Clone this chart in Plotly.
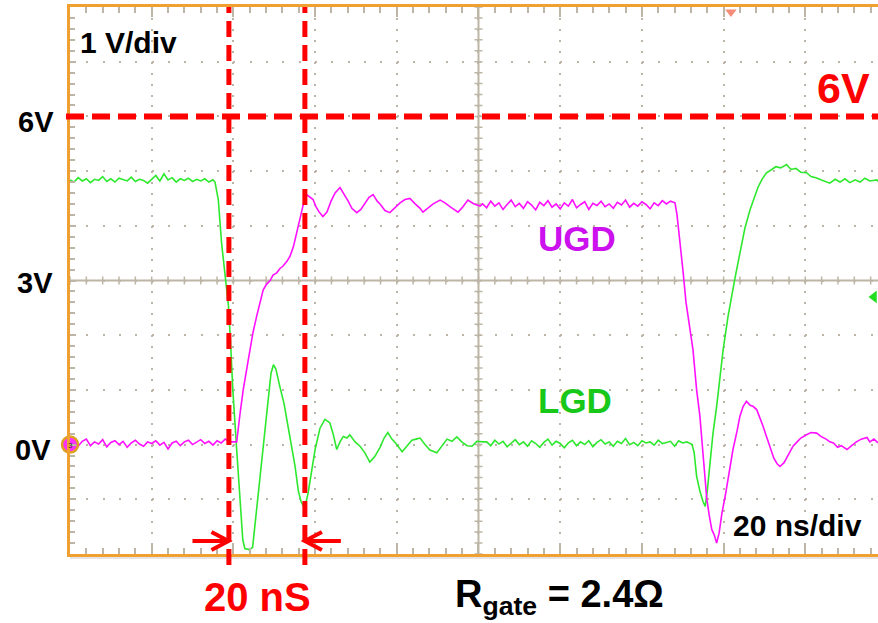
import numpy as np
import plotly.graph_objects as go

# ---------------- data (time in ns, voltage in V) ----------------
# LGD (green) lower gate drive
lgd_t = (list(range(0, 36)) +
         [35.5, 36.3, 37.1, 37.9, 38.8, 39.3, 39.9, 40.8, 41.6, 42.3, 42.8, 43.8, 44.7,
          45.5, 46.5, 47.5, 48.5, 49.2, 49.8, 50.4, 51.4, 52.4, 53.1, 54.1, 55.1, 55.9,
          56.6, 57.1, 57.8, 58.3, 59.2, 60.0, 61.2, 62.4, 63.2, 63.6, 64.4, 65.3, 66.1,
          66.9, 67.8, 68.5, 69.8, 71.0, 72.2, 73.4, 74.6, 75.9, 76.9, 77.8, 78.8, 79.8,
          81.3, 82.5, 83.7, 84.7, 85.7, 86.9, 88.1, 89.8, 91.1, 92.3, 93.5, 94.7, 95.9,
          97.2, 98.4, 99.6, 101.1] +
         list(range(102, 152)) +
         [152.3, 152.8, 153.4, 154.2, 155.0, 155.5, 156.0, 156.7, 157.4, 158.3, 159.1,
          159.9, 161.1, 162.1, 162.8, 164.0, 165.2, 166.5, 167.3, 168.4, 169.4, 170.5,
          171.6, 172.8, 174.0, 175.4, 176.5, 177.7, 178.9, 180.3, 181.4, 182.6, 183.8,
          185.1, 186.0, 187.3, 188.5, 189.7, 190.9, 192.2, 193.4, 194.6, 195.8, 197.5, 197.8])
lgd_v = ([4.84, 4.80, 4.88, 4.82, 4.86, 4.79, 4.85, 4.83, 4.90, 4.81, 4.86, 4.80, 4.87,
          4.84, 4.82, 4.89, 4.81, 4.85, 4.83, 4.78, 4.86, 4.92, 4.82, 4.95, 4.84, 4.88,
          4.80, 4.86, 4.83, 4.87, 4.81, 4.85, 4.82, 4.86, 4.80, 4.84] +
         [4.80, 4.48, 3.69, 3.08, 2.53, 1.86, 0.95, -0.09, -0.95, -1.74, -1.90, -1.92, -1.88,
          -1.30, -0.70, 0.10, 0.82, 1.30, 1.46, 1.38, 1.05, 0.75, 0.45, 0.00, -0.40, -0.85,
          -1.05, -1.12, -1.05, -0.88, -0.45, -0.09, 0.30, 0.46, 0.42, 0.40, 0.20, -0.09, 0.05,
          0.15, 0.12, 0.18, 0.05, -0.03, -0.15, -0.32, -0.22, -0.05, 0.12, 0.22, 0.10, 0.02,
          -0.13, -0.02, 0.08, 0.10, 0.12, 0.00, -0.10, -0.15, -0.02, 0.10, 0.06, 0.14, 0.05,
          -0.02, -0.03, 0.06, 0.05] +
         [0.05, -0.02, 0.08, 0.01, 0.06, -0.04, 0.03, 0.09, 0.00, 0.05, -0.03, 0.07, 0.02,
          -0.05, 0.04, 0.10, -0.01, 0.06, 0.02, -0.06, 0.03, 0.08, -0.02, 0.05, 0.00, 0.07,
          -0.04, 0.04, 0.09, 0.01, 0.05, -0.03, 0.06, 0.02, 0.11, 0.00, 0.04, -0.02, 0.07,
          0.03, 0.05, -0.01, 0.08, 0.02, 0.04, 0.06, -0.03, 0.07, 0.03, 0.05] +
         [0.00, -0.15, -0.58, -0.85, -1.05, -1.13, -0.85, -0.27, 0.20, 0.70, 1.25,
          1.74, 2.35, 2.80, 3.05, 3.50, 3.95, 4.30, 4.48, 4.70, 4.85, 4.97,
          5.02, 5.08, 5.06, 5.12, 5.03, 5.05, 4.98, 4.97, 4.90, 4.88, 4.84,
          4.80, 4.78, 4.85, 4.80, 4.86, 4.79, 4.84, 4.80, 4.87, 4.82, 4.84, 4.81])

# UGD (magenta) upper gate drive
ugd_t = (list(range(0, 40)) +
         [40.4, 40.8, 41.6, 42.4, 43.3, 44.1, 44.8, 45.7, 46.5, 47.3, 48.1, 49.0, 49.7,
          50.6, 51.4, 52.1, 53.1, 53.9, 54.7, 55.5, 56.1, 56.7, 57.3, 57.9, 58.8, 59.5,
          60.2, 61.0, 61.9, 62.9, 63.9, 64.9, 66.1, 67.1, 68.1, 69.0, 70.2, 71.2, 72.2,
          73.2, 74.2, 75.2, 75.9, 77.1, 78.3, 79.6, 80.8, 82.0, 83.2, 84.5, 85.7, 86.4,
          87.6, 88.9, 90.6, 91.8, 93.0, 95.0, 96.2, 97.4, 98.9, 100.4] +
         list(range(101, 148)) +
         [148.1, 148.6, 149.3, 150.1, 150.8, 151.8, 152.5, 153.4, 154.2, 155.0, 155.9,
          156.5, 157.1, 157.7, 158.3, 158.9, 159.6, 160.4, 161.3, 162.3, 163.3, 164.0,
          164.8, 165.6, 166.5, 167.2, 168.1, 168.9, 169.6, 170.5, 171.4, 172.3, 173.1,
          173.8, 174.8, 175.8, 177.0, 178.0, 178.9, 180.3, 181.4, 182.8, 183.8, 185.1,
          186.0, 186.9, 187.9, 188.8, 190.2, 191.2, 192.5, 193.7, 195.1, 195.8, 196.8, 197.8])
ugd_v = ([0.02, 0.08, -0.03, 0.06, 0.10, -0.02, 0.05, 0.01, 0.09, -0.04, 0.04, 0.07, 0.00,
          0.06, -0.05, 0.03, 0.08, 0.01, -0.03, 0.05, 0.02, 0.07, -0.01, 0.04, -0.08, 0.03,
          0.06, -0.02, 0.05, 0.08, 0.00, 0.04, 0.09, 0.02, 0.06, -0.01, 0.07, 0.03, 0.10, 0.05] +
         [0.06, 0.05, 0.55, 1.00, 1.40, 1.74, 2.05, 2.35, 2.62, 2.83, 2.93, 3.00, 3.10,
          3.14, 3.22, 3.26, 3.35, 3.45, 3.62, 3.87, 4.10, 4.30, 4.45, 4.57, 4.52, 4.48,
          4.35, 4.25, 4.17, 4.25, 4.45, 4.60, 4.70, 4.58, 4.45, 4.32, 4.24, 4.30, 4.42,
          4.52, 4.57, 4.45, 4.40, 4.28, 4.24, 4.33, 4.42, 4.48, 4.50, 4.40, 4.32, 4.25,
          4.32, 4.40, 4.47, 4.42, 4.35, 4.25, 4.35, 4.47, 4.40, 4.36] +
         [4.40, 4.33, 4.45, 4.36, 4.42, 4.30, 4.39, 4.47, 4.35, 4.41, 4.32, 4.44, 4.38,
          4.29, 4.43, 4.37, 4.46, 4.34, 4.40, 4.31, 4.42, 4.36, 4.48, 4.33, 4.39, 4.44,
          4.30, 4.41, 4.37, 4.45, 4.35, 4.40, 4.32, 4.43, 4.38, 4.47, 4.34, 4.41, 4.36,
          4.44, 4.39, 4.31, 4.42, 4.37, 4.46, 4.40, 4.45] +
         [4.42, 4.20, 3.75, 3.15, 2.60, 2.05, 1.74, 1.00, 0.52, -0.20, -1.00,
          -1.30, -1.55, -1.65, -1.80, -1.62, -1.25, -0.94, -0.50, -0.09, 0.25, 0.52,
          0.70, 0.79, 0.72, 0.70, 0.64, 0.50, 0.35, 0.15, -0.05, -0.25, -0.35,
          -0.40, -0.33, -0.18, -0.03, 0.05, 0.12, 0.18, 0.22, 0.21, 0.15, 0.10,
          0.05, 0.03, -0.05, -0.02, -0.09, -0.03, 0.05, 0.10, 0.13, 0.05, 0.10, 0.03])

# scope settings
NS_PER_DIV = 20
V_PER_DIV = 1
X_RANGE = [0, 197.8]
Y_RANGE = [-2, 8]
CENTER_T = 100
CENTER_V = 3
CURSOR_T = [38.9, 57.5]
LEVEL_V = 6
TRIG_T = 161.8
CH_LEVEL_V = 2.7

# ---------------- styling ----------------
W, H = 878, 623
ML, MT, MR, MB = 70, 7, 0, 69
PW, PH = W - ML - MR, H - MT - MB
FONT = "Liberation Sans, Arial, Helvetica, sans-serif"
ORANGE = "#f0a030"
GRID = "#bdb5a5"
RED = "#ff0000"
GREEN = "#2ee82e"
MAGENTA = "#ff10ff"


def px_x(px):
    return (px - ML) / PW


def px_y(py):
    return (H - MB - py) / PH


ns_per_px = (X_RANGE[1] - X_RANGE[0]) / PW
v_per_px = (Y_RANGE[1] - Y_RANGE[0]) / PH

fig = go.Figure()
fig.add_trace(go.Scatter(x=lgd_t, y=lgd_v, mode="lines",
                         line=dict(color=GREEN, width=1.6), showlegend=False))
fig.add_trace(go.Scatter(x=ugd_t, y=ugd_v, mode="lines",
                         line=dict(color=MAGENTA, width=1.6), showlegend=False))

# channel / trigger markers
fig.add_trace(go.Scatter(x=[0], y=[0], mode="markers",
                         marker=dict(size=16, color="#ff30ff", line=dict(color="#e0a020", width=2.5)),
                         cliponaxis=False, showlegend=False))
fig.add_trace(go.Scatter(x=[TRIG_T], y=[Y_RANGE[1] - 5 * v_per_px], mode="markers",
                         marker=dict(symbol="triangle-down", size=10, color="#f48c78"),
                         cliponaxis=False, showlegend=False))
fig.add_trace(go.Scatter(x=[X_RANGE[1] - 4 * ns_per_px], y=[CH_LEVEL_V], mode="markers",
                         marker=dict(symbol="triangle-left", size=11, color="#22dd22"),
                         cliponaxis=False, showlegend=False))

shapes = []
# centre cross lines with minor ticks
shapes.append(dict(type="line", xref="x", yref="paper", x0=CENTER_T, x1=CENTER_T, y0=0, y1=1,
                   line=dict(color=GRID, width=2), layer="below"))
shapes.append(dict(type="line", xref="paper", yref="y", x0=0, x1=1, y0=CENTER_V, y1=CENTER_V,
                   line=dict(color=GRID, width=2), layer="below"))
dv = 4 * v_per_px
dt = 4 * ns_per_px
p = ""
for xt in np.arange(X_RANGE[0], X_RANGE[1], NS_PER_DIV / 5):
    p += f"M{xt:.3f},{CENTER_V - dv:.4f}L{xt:.3f},{CENTER_V + dv:.4f}"
for yt in np.arange(Y_RANGE[0], Y_RANGE[1] + 1e-9, V_PER_DIV / 5):
    p += f"M{CENTER_T - dt:.4f},{yt:.3f}L{CENTER_T + dt:.4f},{yt:.3f}"
shapes.append(dict(type="path", xref="x", yref="y", path=p,
                   line=dict(color=GRID, width=1.5), layer="below"))

# light line under frame
shapes.append(dict(type="line", xref="paper", yref="paper", x0=0, x1=1,
                   y0=px_y(558), y1=px_y(558), line=dict(color="#dcdcdc", width=1.5)))

# red cursors
shapes.append(dict(type="line", xref="paper", yref="y", x0=px_x(66), x1=1, y0=LEVEL_V, y1=LEVEL_V,
                   line=dict(color=RED, width=6, dash="18px,8px"), layer="above"))
for ct in CURSOR_T:
    shapes.append(dict(type="line", xref="x", yref="paper", x0=ct, x1=ct, y0=px_y(565), y1=1,
                       line=dict(color=RED, width=5, dash="16px,8px"), layer="above"))

# arrows pointing at the cursors
ay = Y_RANGE[0] + 13 * v_per_px
arm_dx = 17 * ns_per_px
arm_dy = 9 * v_per_px
tail = 36 * ns_per_px
for tip, sgn in [(CURSOR_T[0] - 0.1, 1), (CURSOR_T[1], -1)]:
    t0 = tip - sgn * tail
    ab = tip - sgn * arm_dx
    path = (f"M{t0:.3f},{ay:.4f}L{tip:.3f},{ay:.4f}"
            f"M{ab:.3f},{ay + arm_dy:.4f}L{tip:.3f},{ay:.4f}L{ab:.3f},{ay - arm_dy:.4f}")
    shapes.append(dict(type="path", xref="x", yref="y", path=path,
                       line=dict(color=RED, width=4), layer="above"))

ann = []


def txt(text, x, y, size, color="black", bold=True, xanchor="center", yanchor="middle"):
    t = f"<b>{text}</b>" if bold else text
    ann.append(dict(text=t, x=px_x(x), y=px_y(y), xref="paper", yref="paper",
                    xanchor=xanchor, yanchor=yanchor, showarrow=False,
                    font=dict(family=FONT, size=size, color=color)))


txt("3", 70, 445, 8, color="#333", bold=False)
txt("1 V/div", 78, 42, 30, xanchor="left")
txt("6V", 56, 122, 29, xanchor="right")
txt("3V", 55, 283, 29, xanchor="right")
txt("0V", 53, 450, 29, xanchor="right")
txt("6V", 872, 88, 43, color=RED, xanchor="right")
txt("UGD", 577, 238, 35, color="#cc10ee")
txt("LGD", 575, 400, 35, color="#18c818")
txt("20 ns/div", 797, 525, 30)
txt("20 nS", 257, 597, 40, color=RED)
txt("R<sub>gate</sub> = 2.4Ω", 453, 623, 38, xanchor="left", yanchor="bottom")

fig.update_layout(
    width=W, height=H,
    margin=dict(l=ML, r=MR, t=MT, b=MB, pad=0),
    paper_bgcolor="white", plot_bgcolor="white",
    shapes=shapes, annotations=ann, showlegend=False,
    xaxis=dict(range=X_RANGE, tick0=0, dtick=NS_PER_DIV, showticklabels=False,
               showgrid=True, gridcolor=GRID, gridwidth=2, griddash="2px,8.94px",
               zeroline=False, showline=True, linecolor=ORANGE, linewidth=2.5,
               mirror="ticks", ticks="inside", ticklen=10, tickwidth=1.5, tickcolor=GRID,
               minor=dict(ticks="inside", dtick=NS_PER_DIV / 5, ticklen=6, tickwidth=1.5,
                          tickcolor=GRID, showgrid=False)),
    yaxis=dict(range=Y_RANGE, tick0=0, dtick=V_PER_DIV, showticklabels=False,
               showgrid=True, gridcolor=GRID, gridwidth=2, griddash="2px,14.34px",
               zeroline=False, showline=True, linecolor=ORANGE, linewidth=2.5,
               mirror=False, ticks="inside", ticklen=6, tickwidth=1.5, tickcolor=GRID,
               minor=dict(ticks="inside", dtick=V_PER_DIV / 5, ticklen=5, tickwidth=1.5,
                          tickcolor=GRID, showgrid=False)),
)

fig.write_html("out.html")
